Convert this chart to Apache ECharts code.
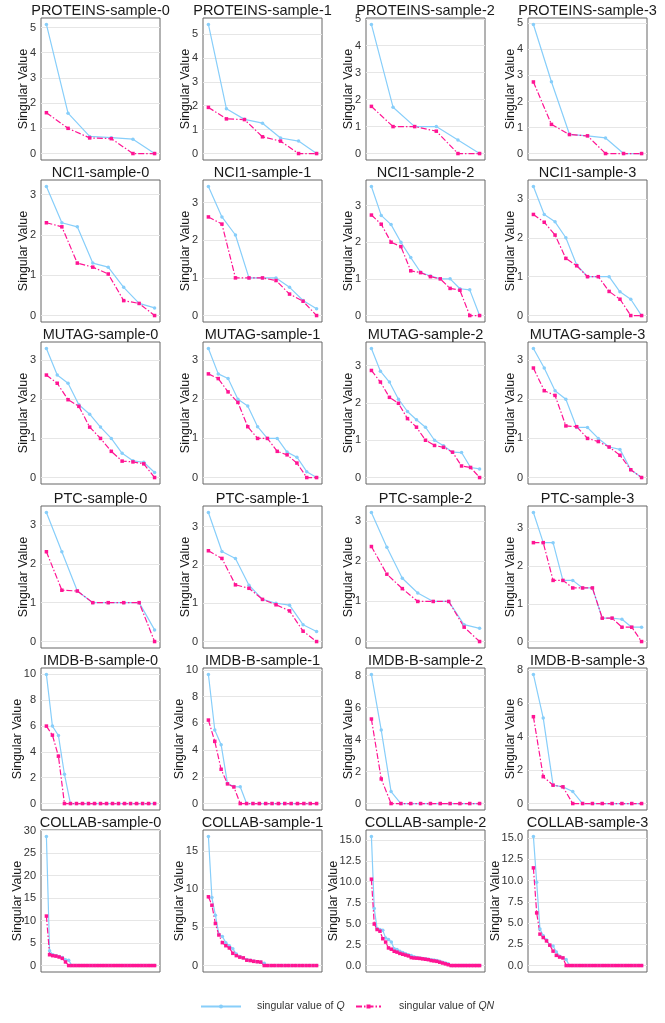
<!DOCTYPE html>
<html>
<head>
<meta charset="UTF-8">
<script type="text/javascript" src="https://cdn.jsdelivr.net/npm/echarts@6/dist/echarts.min.js"></script>
<style>
html, body { margin: 0; padding: 0; background: #fff; }
#chartmain { width: 665px; height: 1023px; }
</style>
</head>
<body>
<div id="chartmain"></div>
<script type="text/javascript">
// dataset names, one per row
var datasets = ['PROTEINS', 'NCI1', 'MUTAG', 'PTC', 'IMDB-B', 'COLLAB'];

// singular values, one list per sample
var PROTEINS_Q = [
    [5.12, 1.6, 0.68, 0.63, 0.57, 0],
    [5.4, 1.87, 1.43, 1.27, 0.65, 0.52, 0],
    [4.79, 1.72, 1.0, 1.0, 0.5, 0],
    [4.96, 2.76, 0.74, 0.68, 0.6, 0, 0]
];
var PROTEINS_QN = [
    [1.62, 1.0, 0.62, 0.59, 0, 0],
    [1.93, 1.45, 1.42, 0.7, 0.52, 0, 0],
    [1.75, 1.0, 1.0, 0.83, 0, 0],
    [2.75, 1.12, 0.73, 0.68, 0, 0, 0]
];
var NCI1_Q = [
    [3.2, 2.3, 2.2, 1.3, 1.2, 0.7, 0.3, 0.19],
    [3.43, 2.62, 2.14, 1.0, 1.0, 1.0, 0.75, 0.4, 0.18],
    [3.52, 2.73, 2.48, 2.0, 1.58, 1.18, 1.08, 1.0, 1.0, 0.73, 0.7, 0],
    [3.32, 2.6, 2.41, 2.0, 1.3, 1.0, 1.0, 1.0, 0.61, 0.42, 0]
];
var NCI1_QN = [
    [2.3, 2.2, 1.3, 1.2, 1.03, 0.37, 0.3, 0],
    [2.62, 2.43, 1.0, 1.0, 1.0, 0.93, 0.57, 0.38, 0],
    [2.74, 2.49, 2.0, 1.88, 1.22, 1.17, 1.06, 1.0, 0.74, 0.69, 0, 0],
    [2.6, 2.4, 2.07, 1.47, 1.28, 1.0, 1.0, 0.62, 0.42, 0, 0]
];
var MUTAG_Q = [
    [3.3, 2.62, 2.41, 1.86, 1.62, 1.29, 1.0, 0.62, 0.43, 0.39, 0.13],
    [3.3, 2.65, 2.53, 2.0, 1.83, 1.3, 1.0, 1.0, 0.65, 0.52, 0.15, 0],
    [3.46, 2.85, 2.56, 2.1, 1.77, 1.55, 1.35, 1.0, 0.85, 0.68, 0.67, 0.27, 0.23],
    [3.3, 2.8, 2.22, 2.0, 1.28, 1.28, 1.0, 0.78, 0.72, 0.2, 0]
];
var MUTAG_QN = [
    [2.62, 2.41, 1.99, 1.82, 1.29, 1.0, 0.67, 0.42, 0.4, 0.35, 0],
    [2.65, 2.53, 2.19, 1.92, 1.3, 1.0, 1.0, 0.67, 0.58, 0.37, 0, 0],
    [2.87, 2.56, 2.15, 1.99, 1.58, 1.35, 1.0, 0.86, 0.81, 0.68, 0.31, 0.27, 0],
    [2.8, 2.22, 2.1, 1.32, 1.3, 1.0, 0.92, 0.78, 0.57, 0.2, 0]
];
var PTC_Q = [
    [3.32, 2.31, 1.3, 1.0, 1.0, 1.0, 1.0, 0.3],
    [3.37, 2.35, 2.17, 1.47, 1.1, 1.0, 0.95, 0.44, 0.26],
    [3.22, 2.35, 1.58, 1.21, 1.0, 1.0, 0.42, 0.33],
    [3.42, 2.62, 2.62, 1.62, 1.62, 1.42, 1.42, 0.62, 0.62, 0.59, 0.38, 0.38]
];
var PTC_QN = [
    [2.31, 1.32, 1.3, 1.0, 1.0, 1.0, 1.0, 0],
    [2.37, 2.17, 1.48, 1.39, 1.1, 0.96, 0.8, 0.27, 0],
    [2.37, 1.68, 1.32, 1.0, 1.0, 1.0, 0.36, 0],
    [2.62, 2.62, 1.62, 1.62, 1.42, 1.42, 1.42, 0.62, 0.62, 0.38, 0.38, 0]
];
var IMDB_Q = [
    [10.0, 6.0, 5.27, 2.27, 0, 0, 0, 0, 0, 0, 0, 0, 0, 0, 0, 0, 0, 0, 0],
    [9.65, 5.5, 4.4, 1.49, 1.27, 1.25, 0, 0, 0, 0, 0, 0, 0, 0, 0, 0, 0, 0],
    [8.08, 4.6, 0.75, 0, 0, 0, 0, 0, 0, 0, 0, 0],
    [7.73, 5.12, 1.1, 1.0, 0.72, 0, 0, 0, 0, 0, 0, 0]
];
var IMDB_QN = [
    [6.0, 5.3, 3.67, 0, 0, 0, 0, 0, 0, 0, 0, 0, 0, 0, 0, 0, 0, 0, 0],
    [6.24, 4.65, 2.56, 1.47, 1.24, 0, 0, 0, 0, 0, 0, 0, 0, 0, 0, 0, 0, 0],
    [5.29, 1.54, 0, 0, 0, 0, 0, 0, 0, 0, 0, 0],
    [5.2, 1.61, 1.1, 1.0, 0, 0, 0, 0, 0, 0, 0, 0]
];
var COLLAB_Q = [
    [28.7, 3.3, 2.4, 2.2, 2.0, 1.8, 1.3, 1.2, 0, 0, 0, 0, 0, 0, 0, 0, 0, 0, 0, 0,
     0, 0, 0, 0, 0, 0, 0, 0, 0, 0, 0, 0, 0, 0, 0],
    [16.9, 8.9, 6.6, 4.1, 3.8, 3.0, 2.6, 2.2, 1.5, 1.2, 1.0, 0.8, 0.7, 0.6, 0.5, 0.45,
     0.3, 0, 0, 0, 0, 0, 0, 0, 0, 0, 0, 0, 0, 0, 0, 0],
    [15.4, 6.8, 4.4, 4.3, 4.2, 3.3, 3.1, 2.8, 2.0, 1.9, 1.7, 1.55, 1.4, 1.3, 1.2, 1.05,
     0.95, 0.9, 0.85, 0.8, 0.75, 0.7, 0.65, 0.6, 0.5, 0.4, 0.3, 0.2,
     0, 0, 0, 0, 0, 0, 0, 0, 0, 0, 0],
    [15.2, 9.8, 4.3, 3.5, 3.0, 2.4, 2.3, 1.6, 1.1, 0.9, 0.7, 0, 0, 0, 0, 0, 0, 0, 0, 0,
     0, 0, 0, 0, 0, 0, 0, 0, 0, 0, 0, 0, 0, 0]
];
var COLLAB_QN = [
    [11.0, 2.4, 2.2, 2.1, 1.9, 1.6, 0.8, 0, 0, 0, 0, 0, 0, 0, 0, 0, 0, 0, 0, 0,
     0, 0, 0, 0, 0, 0, 0, 0, 0, 0, 0, 0, 0, 0, 0],
    [9.0, 7.9, 5.5, 4.0, 3.0, 2.6, 2.3, 1.6, 1.3, 1.1, 1.0, 0.7, 0.65, 0.55, 0.5, 0.45,
     0, 0, 0, 0, 0, 0, 0, 0, 0, 0, 0, 0, 0, 0, 0, 0],
    [10.3, 4.95, 4.3, 4.1, 3.2, 2.8, 2.1, 1.95, 1.7, 1.6, 1.45, 1.35, 1.25, 1.15, 0.95, 0.9,
     0.88, 0.85, 0.8, 0.75, 0.7, 0.6, 0.55, 0.5, 0.4, 0.3, 0.2, 0.1,
     0, 0, 0, 0, 0, 0, 0, 0, 0, 0, 0],
    [11.5, 6.2, 3.7, 3.3, 2.9, 2.4, 1.7, 1.2, 1.0, 0.9, 0, 0, 0, 0, 0, 0, 0, 0, 0, 0,
     0, 0, 0, 0, 0, 0, 0, 0, 0, 0, 0, 0, 0, 0]
];

// y tick labels
var ticksInt = [0, 1, 2, 3, 4, 5];
var ticksImdb = [0, 2, 4, 6, 8, 10];
var ticksBy5 = [0, 5, 10, 15, 20, 25, 30];
var ticksBy25 = [0, 2.5, 5, 7.5, 10, 12.5, 15];

var allQ = [PROTEINS_Q, NCI1_Q, MUTAG_Q, PTC_Q, IMDB_Q, COLLAB_Q];
var allQN = [PROTEINS_QN, NCI1_QN, MUTAG_QN, PTC_QN, IMDB_QN, COLLAB_QN];
var rowTicks = [
    [ticksInt, ticksInt, ticksInt, ticksInt],
    [ticksInt, ticksInt, ticksInt, ticksInt],
    [ticksInt, ticksInt, ticksInt, ticksInt],
    [ticksInt, ticksInt, ticksInt, ticksInt],
    [ticksImdb, ticksImdb, ticksImdb, ticksImdb],
    [ticksBy5, ticksBy5, ticksBy25, ticksBy25]
];

var Q_NAME = 'singular value of Q';
var QN_NAME = 'singular value of QN';
var FONT = 'Liberation Sans, Arial, sans-serif';

// layout of the 6x4 panel grid
var colLeft = [41, 203, 366, 528];
var rowTop = [18, 180, 342, 506, 668, 830];
var plotW = 119, plotH = 142;

var grids = [], xAxes = [], yAxes = [], series = [], titles = [], yNames = [];

for (var r = 0; r < datasets.length; r++) {
    for (var c = 0; c < 4; c++) {
        var idx = r * 4 + c;
        var q = allQ[r][c], qn = allQN[r][c];
        var n = q.length;
        var peak = Math.max(Math.max.apply(null, q), Math.max.apply(null, qn));
        var ymin = -0.05 * peak, ymax = 1.05 * peak;
        var ticks = rowTicks[r][c].filter(function (t) { return t <= ymax; });
        var step = ticks[1] - ticks[0];
        var dec = ticks.some(function (t) { return t % 1 !== 0; }) ? 1 : 0;
        var maxLen = 0;
        ticks.forEach(function (t) {
            var s = t.toFixed(dec);
            var w = s.replace('.', '').length * 6.1 + (s.indexOf('.') >= 0 ? 3 : 0);
            if (w > maxLen) maxLen = w;
        });

        titles.push({
            text: datasets[r] + '-sample-' + c,
            left: colLeft[c] + plotW / 2,
            top: rowTop[r] - 15,
            textAlign: 'center',
            padding: 0,
            textStyle: { fontSize: 14.5, fontWeight: 'normal', color: '#1a1a1a', fontFamily: FONT }
        });
        // rotated y-axis title, placed just left of the tick labels
        yNames.push({
            type: 'text',
            x: colLeft[c] - 11 - maxLen,
            y: rowTop[r] + plotH / 2,
            rotation: Math.PI / 2,
            silent: true,
            style: {
                text: 'Singular Value', fill: '#1a1a1a',
                font: '12.5px ' + FONT, align: 'center', verticalAlign: 'middle'
            }
        });
        grids.push({
            left: colLeft[c], top: rowTop[r], width: plotW, height: plotH,
            show: true, borderColor: '#666', borderWidth: 1,
            outerBoundsMode: 'none'
        });
        xAxes.push({
            gridIndex: idx, type: 'value',
            min: -0.05 * (n - 1), max: 1.05 * (n - 1),
            axisLine: { show: false }, axisTick: { show: false },
            axisLabel: { show: false }, splitLine: { show: false }
        });
        yAxes.push({
            gridIndex: idx, type: 'value', min: ymin, max: ymax,
            minInterval: step, maxInterval: step,
            axisLine: { show: false },
            axisTick: { show: false },
            axisLabel: {
                show: true, showMinLabel: false, showMaxLabel: false,
                margin: 5, fontSize: 11, color: '#333', fontFamily: FONT,
                formatter: (function (d, list) {
                    return function (v) {
                        var hit = list.some(function (t) { return Math.abs(t - v) < 1e-6; });
                        return hit ? Number(v).toFixed(d) : '';
                    };
                })(dec, ticks)
            },
            splitLine: {
                show: true, showMinLine: false, showMaxLine: false,
                lineStyle: { color: '#e6e6e6', width: 1 }
            }
        });
        series.push({
            name: Q_NAME, type: 'line', xAxisIndex: idx, yAxisIndex: idx,
            data: q.map(function (v, i) { return [i, v]; }),
            symbol: 'circle', symbolSize: 3.5,
            lineStyle: { color: '#87CEFA', width: 1.2 },
            itemStyle: { color: '#87CEFA' }
        });
        series.push({
            name: QN_NAME, type: 'line', xAxisIndex: idx, yAxisIndex: idx,
            data: qn.map(function (v, i) { return [i, v]; }),
            symbol: 'rect', symbolSize: 3.5,
            lineStyle: { color: '#FF1493', width: 1.2, type: [6, 2, 1.5, 2] },
            itemStyle: { color: '#FF1493' }
        });
    }
}

var option = {
    animation: false,
    backgroundColor: '#fff',
    title: titles,
    graphic: yNames,
    grid: grids,
    xAxis: xAxes,
    yAxis: yAxes,
    legend: [
        {
            data: [Q_NAME], left: 200, top: 1001, padding: 0,
            itemWidth: 40, itemHeight: 5,
            formatter: function () { return 'singular value of {i|Q}'; },
            textStyle: {
                fontSize: 10.5, color: '#333', fontFamily: FONT, padding: [0, 0, 0, 11],
                rich: { i: { fontStyle: 'italic', fontSize: 10.5, color: '#333', fontFamily: FONT } }
            }
        },
        {
            data: [QN_NAME], left: 355, top: 1001, padding: 0,
            itemWidth: 25, itemHeight: 5,
            formatter: function () { return 'singular value of {i|QN}'; },
            textStyle: {
                fontSize: 10.5, color: '#333', fontFamily: FONT, padding: [0, 0, 0, 13],
                rich: { i: { fontStyle: 'italic', fontSize: 10.5, color: '#333', fontFamily: FONT } }
            }
        }
    ],
    series: series
};

var myChart = echarts.init(document.getElementById('chartmain'));
myChart.setOption(option);
</script>
</body>
</html>
